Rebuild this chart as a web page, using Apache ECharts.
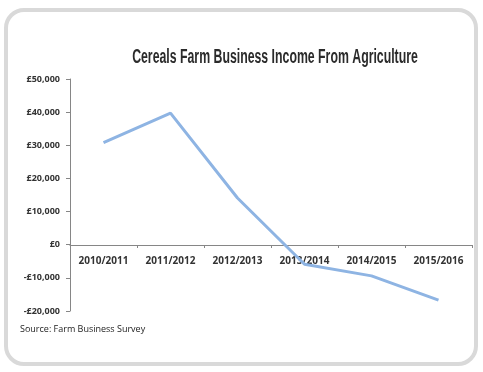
<!DOCTYPE html>
<html><head><meta charset="utf-8">
<script src="https://cdn.jsdelivr.net/npm/echarts@6/dist/echarts.min.js"></script>
<style>html,body{margin:0;padding:0;background:#fff}#c{width:483px;height:372px}</style>
</head><body><div id="c"></div>
<script>
const categories = ['2010/2011','2011/2012','2012/2013','2013/2014','2014/2015','2015/2016'];
const income = [30800, 39700, 14100, -5900, -9400, -16700];
const titleText = 'Cereals Farm Business Income From Agriculture';
const sourceText = 'Source: Farm Business Survey';

const chart = echarts.init(document.getElementById('c'));
function fmt(v){
  const s = Math.abs(v).toLocaleString('en-GB');
  return (v < 0 ? '-£' : '£') + s;
}
chart.setOption({
  backgroundColor: '#fff',
  animation: false,
  graphic: [
    {type:'rect', shape:{x:6,y:10,width:470,height:354,r:18}, style:{fill:'#fff', stroke:'#d9d9d9', lineWidth:4}, z:-10},
    {type:'text', x:275, y:57, scaleX:0.615, style:{text:titleText, font:'bold 20px "Liberation Sans", sans-serif', fill:'#2b2b2b', textAlign:'center', textVerticalAlign:'middle'}},
    {type:'text', left:20, top:325, style:{text:sourceText, font:'9px "Open Sans", sans-serif', fill:'#222'}}
  ],
  grid: {left:70, right:11, top:79, bottom:61},
  xAxis: {
    type:'category', data:categories, boundaryGap:true, offset:-66,
    axisLine:{onZero:false, lineStyle:{color:'#868686', width:1}},
    axisTick:{show:true, length:3, lineStyle:{color:'#868686'}},
    axisLabel:{interval:0, margin:11, fontSize:10, fontWeight:'bold', color:'#333', fontFamily:'"Open Sans", sans-serif'},
    splitLine:{show:false}
  },
  yAxis: {
    type:'value', min:-20000, max:50000, interval:10000,
    axisLine:{show:true, lineStyle:{color:'#868686', width:1}},
    axisTick:{show:true, length:4, lineStyle:{color:'#868686'}},
    axisLabel:{formatter:fmt, margin:10, fontSize:9, fontWeight:'bold', color:'#333', fontFamily:'"Open Sans", sans-serif'},
    splitLine:{show:false}
  },
  series: [{
    type:'line', data:income, symbol:'none',
    lineStyle:{color:'#8eb4e3', width:3}
  }]
});
</script></body></html>
